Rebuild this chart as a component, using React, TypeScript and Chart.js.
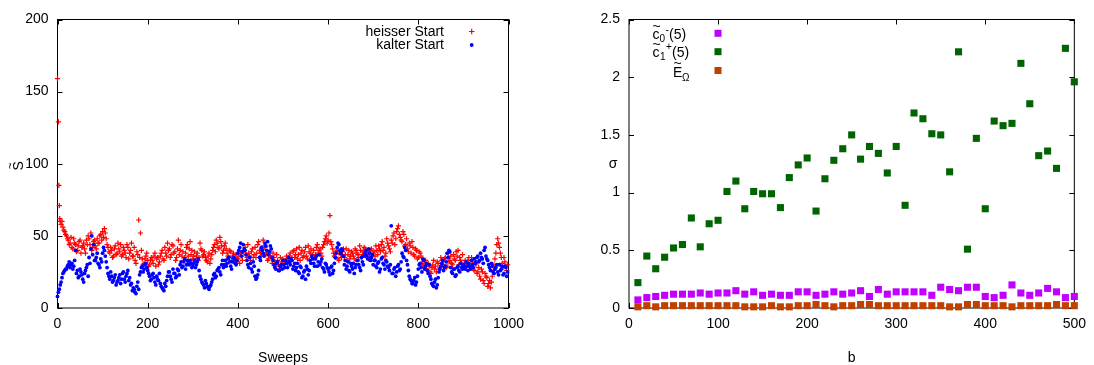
import React, { useEffect, useRef } from "react";
import { Chart, registerables } from "chart.js";
Chart.register(...registerables);

const FONT = '"Liberation Sans", Arial, Helvetica, sans-serif';

// ---- Left panel: S~ vs Sweeps ----
const hotEarlySweeps = [0, 2, 3, 4, 5, 6];
const hotEarlyValues = [159, 129, 85, 71, 62, 60];
const sweepStep = 4;
const hotStartA = 8;
const hotStartB = 10;
const coldStartA = 0;
const coldStartB = 2;

// heisser Start, sweeps 8, 12, ..., 996
const hotValuesA = [
  58, 56, 53, 50, 47, 45, 42, 48, 44, 40, 46, 38, 43, 41, 47, 50, 44, 40, 46, 43, 48, 45, 51, 53, 55,
  48, 42, 38, 40, 36, 43, 38, 41, 44, 37, 40, 35, 42, 38, 45, 36, 33, 39, 61, 52, 34, 31, 36, 33, 30,
  35, 31, 38, 34, 30, 36, 40, 33, 38, 45, 41, 37, 43, 39, 35, 47, 40, 36, 33, 38, 44, 41, 37, 34, 39,
  36, 33, 45, 40, 37, 35, 32, 38, 34, 40, 44, 47, 42, 49, 43, 40, 45, 38, 35, 39, 36, 33, 37, 34, 31,
  36, 39, 42, 35, 38, 33, 41, 37, 35, 44, 40, 36, 47, 42, 38, 34, 36, 31, 35, 29, 33, 27, 30, 34, 31,
  36, 33, 38, 35, 40, 37, 34, 42, 38, 35, 39, 36, 43, 38, 35, 40, 37, 44, 40, 38, 42, 46, 50, 47, 64,
  44, 38, 35, 40, 33, 37, 39, 35, 41, 37, 34, 39, 36, 41, 38, 35, 40, 37, 42, 36, 39, 35, 41, 38, 36,
  40, 43, 39, 46, 42, 38, 45, 41, 47, 50, 44, 53, 57, 49, 46, 51, 44, 41, 45, 38, 42, 36, 40, 35, 38,
  31, 28, 33, 26, 29, 24, 30, 27, 25, 31, 28, 33, 30, 35, 29, 32, 36, 30, 34, 39, 40, 35, 31, 28, 33,
  30, 35, 28, 32, 26, 30, 25, 22, 27, 19, 24, 21, 17, 14, 22, 30, 38, 48, 42, 35, 28, 32, 26,
];
// heisser Start, sweeps 10, 14, ..., 998
const hotValuesB = [
  60, 54, 51, 48, 44, 49, 41, 45, 39, 43, 47, 42, 45, 38, 44, 48, 52, 42, 47, 41, 45, 50, 47, 49, 52,
  44, 39, 42, 35, 41, 37, 45, 39, 36, 42, 38, 44, 34, 40, 36, 42, 31, 37, 35, 40, 30, 34, 38, 29, 33,
  33, 36, 29, 35, 32, 38, 34, 42, 36, 40, 35, 44, 38, 33, 41, 37, 44, 39, 35, 42, 36, 46, 40, 36, 33,
  38, 35, 41, 36, 39, 33, 36, 31, 37, 42, 39, 45, 41, 46, 38, 43, 41, 36, 40, 33, 38, 35, 32, 36, 38,
  33, 40, 37, 44, 36, 39, 35, 42, 38, 46, 38, 41, 43, 37, 33, 39, 35, 38, 32, 37, 30, 35, 32, 28, 33,
  31, 36, 33, 39, 35, 41, 37, 33, 40, 36, 42, 34, 39, 41, 37, 35, 42, 38, 41, 36, 44, 48, 45, 52, 46,
  41, 36, 39, 34, 38, 35, 41, 37, 33, 40, 36, 38, 34, 40, 37, 43, 35, 39, 41, 37, 34, 40, 36, 39, 43,
  37, 41, 44, 40, 36, 48, 43, 39, 45, 52, 48, 55, 51, 47, 53, 43, 48, 39, 43, 46, 37, 41, 34, 39, 36,
  30, 33, 27, 31, 25, 28, 33, 29, 32, 27, 35, 30, 34, 28, 38, 33, 31, 37, 33, 36, 30, 33, 37, 31, 29,
  33, 29, 35, 27, 31, 24, 28, 20, 25, 17, 22, 15, 19, 18, 26, 34, 44, 45, 38, 31, 35, 29, 30,
];

// kalter Start, sweeps 0, 4, ..., 996
const coldValuesA = [
  8, 13, 18, 24, 26, 27, 30, 28, 31, 29, 40, 26, 22, 25, 20, 24, 28, 22, 31, 50, 44, 33, 38, 30, 34,
  38, 40, 32, 24, 20, 22, 19, 23, 18, 21, 17, 24, 20, 22, 26, 21, 17, 14, 11, 15, 13, 25, 29, 27, 31,
  26, 22, 20, 24, 18, 22, 19, 17, 14, 12, 15, 22, 25, 20, 27, 24, 22, 26, 30, 28, 32, 27, 33, 30, 31,
  29, 33, 30, 34, 22, 18, 16, 19, 15, 13, 16, 20, 24, 22, 27, 25, 30, 28, 33, 31, 35, 29, 32, 34, 30,
  38, 42, 36, 44, 40, 33, 28, 31, 25, 29, 20, 23, 35, 42, 38, 45, 40, 37, 43, 35, 30, 27, 32, 26, 30,
  33, 28, 31, 35, 30, 33, 29, 26, 31, 24, 28, 22, 26, 29, 23, 33, 36, 31, 34, 29, 37, 32, 28, 25, 30,
  27, 23, 29, 26, 35, 42, 44, 38, 40, 30, 27, 32, 25, 29, 31, 28, 33, 30, 26, 32, 36, 40, 34, 38, 35,
  30, 33, 28, 32, 27, 35, 30, 33, 29, 26, 57, 24, 28, 25, 30, 27, 38, 35, 40, 30, 22, 19, 17, 21, 18,
  27, 31, 25, 33, 29, 26, 30, 20, 16, 18, 14, 21, 27, 31, 26, 29, 38, 40, 28, 24, 27, 23, 29, 25, 28,
  30, 27, 29, 31, 27, 30, 34, 32, 36, 33, 35, 31, 42, 34, 30, 26, 29, 24, 28, 25, 30, 27, 23, 29, 22,
];
// kalter Start, sweeps 2, 6, ..., 998
const coldValuesB = [
  11, 16, 21, 25, 27, 29, 32, 30, 27, 33, 24, 21, 27, 23, 18, 26, 30, 35, 41, 37, 33, 35, 31, 28, 32,
  42, 36, 28, 22, 25, 18, 21, 16, 19, 23, 20, 25, 18, 24, 19, 16, 12, 13, 10, 18, 23, 28, 25, 30, 28,
  24, 19, 23, 21, 16, 20, 24, 15, 13, 17, 19, 25, 22, 18, 24, 21, 27, 23, 32, 29, 34, 30, 31, 33, 28,
  31, 28, 32, 26, 20, 17, 14, 17, 14, 15, 18, 23, 21, 26, 28, 23, 33, 30, 29, 34, 32, 27, 35, 31, 33,
  40, 45, 39, 41, 37, 30, 35, 27, 32, 22, 21, 26, 33, 40, 36, 43, 46, 39, 41, 33, 28, 31, 26, 29, 27,
  30, 33, 28, 32, 34, 27, 31, 28, 25, 29, 21, 25, 20, 27, 26, 31, 34, 29, 36, 32, 30, 34, 27, 31, 28,
  25, 28, 24, 31, 38, 45, 40, 41, 36, 33, 29, 26, 31, 27, 24, 30, 33, 28, 35, 30, 38, 36, 41, 33, 37,
  33, 29, 31, 25, 34, 31, 27, 32, 28, 30, 24, 27, 22, 29, 26, 32, 36, 42, 33, 26, 20, 17, 19, 16, 22,
  30, 28, 34, 27, 31, 24, 22, 17, 15, 20, 16, 25, 29, 33, 28, 32, 35, 39, 25, 27, 22, 28, 26, 31, 27,
  28, 32, 26, 29, 33, 28, 31, 35, 32, 38, 34, 40, 36, 33, 28, 31, 25, 27, 30, 23, 26, 29, 24, 28, 25,
];

const leftXTicks = [0, 200, 400, 600, 800, 1000];
const leftYTicks = [0, 50, 100, 150, 200];
const leftSeriesNames = ["heisser Start", "kalter Start"];

// ---- Right panel: sigma vs b ----
const bValues = [
  10, 20, 30, 40, 50, 60, 70, 80, 90, 100, 110, 120, 130, 140, 150, 160, 170, 180, 190, 200,
  210, 220, 230, 240, 250, 260, 270, 280, 290, 300, 310, 320, 330, 340, 350, 360, 370, 380, 390, 400,
  410, 420, 430, 440, 450, 460, 470, 480, 490, 500,
];
const c0Minus = [
  0.07, 0.09, 0.10, 0.11, 0.12, 0.12, 0.12, 0.13, 0.12, 0.13, 0.13, 0.15, 0.12, 0.14, 0.11, 0.12, 0.11, 0.11, 0.14, 0.14,
  0.11, 0.12, 0.14, 0.12, 0.13, 0.15, 0.10, 0.16, 0.12, 0.14, 0.14, 0.14, 0.14, 0.11, 0.18, 0.16, 0.15, 0.18, 0.18, 0.10,
  0.09, 0.11, 0.20, 0.13, 0.11, 0.13, 0.17, 0.14, 0.09, 0.10,
];
const c1Plus = [
  0.22, 0.45, 0.34, 0.44, 0.52, 0.55, 0.78, 0.53, 0.73, 0.76, 1.01, 1.10, 0.86, 1.01, 0.99, 0.99, 0.87, 1.13, 1.24, 1.30,
  0.84, 1.12, 1.28, 1.38, 1.50, 1.29, 1.40, 1.34, 1.17, 1.40, 0.89, 1.69, 1.64, 1.51, 1.50, 1.18, 2.22, 0.51, 1.47, 0.86,
  1.62, 1.58, 1.60, 2.12, 1.77, 1.32, 1.36, 1.21, 2.25, 1.96,
];
const eOmega = [
  0.01, 0.02, 0.01, 0.02, 0.02, 0.02, 0.02, 0.02, 0.02, 0.02, 0.02, 0.02, 0.01, 0.01, 0.01, 0.02, 0.01, 0.01, 0.02, 0.02,
  0.03, 0.02, 0.01, 0.02, 0.02, 0.03, 0.03, 0.02, 0.02, 0.02, 0.02, 0.02, 0.02, 0.02, 0.02, 0.01, 0.01, 0.03, 0.03, 0.02,
  0.02, 0.02, 0.01, 0.02, 0.02, 0.02, 0.02, 0.03, 0.02, 0.02,
];
const rightXTicks = [0, 100, 200, 300, 400, 500];
const rightYTicks = [0, 0.5, 1, 1.5, 2, 2.5];

const RED = "#ff0000";
const BLUE = "#0000ff";
const PURPLE = "#c000ff";
const GREEN = "#006400";
const BROWN = "#c04000";

function drawFrame(chart: any) {
  const { ctx, chartArea: a, scales } = chart;
  ctx.save();
  ctx.strokeStyle = "#000";
  ctx.lineWidth = 1;
  ctx.strokeRect(a.left, a.top, a.right - a.left, a.bottom - a.top);
  const tl = 5;
  ctx.beginPath();
  scales.x.ticks.forEach((t: any) => {
    const px = Math.round(scales.x.getPixelForValue(t.value)) + 0.5;
    ctx.moveTo(px, a.bottom);
    ctx.lineTo(px, a.bottom - tl);
    ctx.moveTo(px, a.top);
    ctx.lineTo(px, a.top + tl);
  });
  scales.y.ticks.forEach((t: any) => {
    const py = Math.round(scales.y.getPixelForValue(t.value)) + 0.5;
    ctx.moveTo(a.left, py);
    ctx.lineTo(a.left + tl, py);
    ctx.moveTo(a.right, py);
    ctx.lineTo(a.right - tl, py);
  });
  ctx.stroke();
  ctx.restore();
}

const leftDecor = {
  id: "leftDecor",
  beforeDatasetsDraw(chart: any) {
    drawFrame(chart);
  },
  afterDraw(chart: any) {
    const { ctx, chartArea: a } = chart;
    ctx.save();
    ctx.fillStyle = "#000";
    ctx.font = `14px ${FONT}`;
    ctx.textAlign = "center";
    ctx.textBaseline = "middle";
    ctx.fillText("Sweeps", (a.left + a.right) / 2, 358);
    ctx.save();
    ctx.translate(19, (a.top + a.bottom) / 2 + 2);
    ctx.rotate(-Math.PI / 2);
    ctx.textAlign = "center";
    ctx.textBaseline = "middle";
    ctx.fillText("S", 0, 0);
    ctx.font = `11px ${FONT}`;
    ctx.fillText("~", 0, -8);
    ctx.restore();
    ctx.font = `14px ${FONT}`;
    ctx.textAlign = "right";
    ctx.textBaseline = "middle";
    ctx.fillText(leftSeriesNames[0], 444, 32);
    ctx.fillText(leftSeriesNames[1], 444, 45.5);
    ctx.strokeStyle = RED;
    ctx.lineWidth = 1.2;
    ctx.beginPath();
    ctx.moveTo(469, 31.5);
    ctx.lineTo(474.5, 31.5);
    ctx.moveTo(471.7, 28.7);
    ctx.lineTo(471.7, 34.3);
    ctx.stroke();
    ctx.fillStyle = BLUE;
    ctx.beginPath();
    ctx.arc(471.7, 45, 1.9, 0, Math.PI * 2);
    ctx.fill();
    ctx.restore();
  },
};

const rightDecor = {
  id: "rightDecor",
  beforeDatasetsDraw(chart: any) {
    drawFrame(chart);
  },
  afterDraw(chart: any) {
    const { ctx, chartArea: a } = chart;
    ctx.save();
    ctx.fillStyle = "#000";
    ctx.font = `14px ${FONT}`;
    ctx.textAlign = "center";
    ctx.textBaseline = "middle";
    ctx.fillText("b", (a.left + a.right) / 2, 358);
    ctx.fillText("\u03c3", 66, (a.top + a.bottom) / 2);
    ctx.textAlign = "left";
    ctx.textBaseline = "alphabetic";
    const big = `14px ${FONT}`;
    const small = `10px ${FONT}`;
    // row 1
    ctx.font = big;
    ctx.fillText("c", 105.5, 39);
    ctx.fillText("~", 105.5, 31);
    ctx.font = small;
    ctx.fillText("0", 112.5, 42);
    ctx.fillText("-", 118.5, 33);
    ctx.font = big;
    ctx.fillText("(5)", 122, 39);
    // row 2
    ctx.fillText("c", 105.5, 57);
    ctx.fillText("~", 105.5, 49);
    ctx.font = small;
    ctx.fillText("1", 113, 60);
    ctx.fillText("+", 119, 50);
    ctx.font = big;
    ctx.fillText("(5)", 125, 57);
    // row 3
    ctx.fillText("E", 126, 77);
    ctx.fillText("~", 126.5, 67.5);
    ctx.font = small;
    ctx.fillText("\u03a9", 135, 81);
    const sq = (c: string, y: number) => {
      ctx.fillStyle = c;
      ctx.fillRect(171 - 3.5, y - 3.5, 7, 7);
    };
    sq(PURPLE, 33.3);
    sq(GREEN, 51.7);
    sq(BROWN, 70.5);
    ctx.restore();
  },
};

function tickFont() {
  return { family: FONT, size: 14 };
}

const hiddenGrid = { display: false, drawTicks: false, tickLength: 0 };

function leftConfig(): any {
  const hotData = [
    ...hotEarlySweeps.map((s, i) => ({ x: s, y: hotEarlyValues[i] })),
    ...hotValuesA.map((v, i) => ({ x: hotStartA + i * sweepStep, y: v })),
    ...hotValuesB.map((v, i) => ({ x: hotStartB + i * sweepStep, y: v })),
  ];
  const coldData = [
    ...coldValuesA.map((v, i) => ({ x: coldStartA + i * sweepStep, y: v })),
    ...coldValuesB.map((v, i) => ({ x: coldStartB + i * sweepStep, y: v })),
  ];
  return {
    type: "scatter",
    data: {
      datasets: [
        {
          label: leftSeriesNames[0],
          data: hotData,
          pointStyle: "cross",
          pointRadius: 2.6,
          borderColor: RED,
          backgroundColor: RED,
          borderWidth: 1.2,
          clip: false,
          order: 1,
        },
        {
          label: leftSeriesNames[1],
          data: coldData,
          pointStyle: "circle",
          pointRadius: 1.9,
          borderWidth: 0,
          backgroundColor: BLUE,
          borderColor: BLUE,
          clip: false,
          order: 0,
        },
      ],
    },
    options: {
      responsive: false,
      maintainAspectRatio: false,
      devicePixelRatio: 1,
      animation: false,
      layout: { padding: { left: 0, top: 19.5, right: 38.5, bottom: 0 } },
      plugins: { legend: { display: false }, tooltip: { enabled: false } },
      scales: {
        x: {
          type: "linear",
          min: 0,
          max: 1000,
          grid: hiddenGrid,
          border: { display: false },
          afterBuildTicks: (s: any) => {
            s.ticks = leftXTicks.map((v) => ({ value: v }));
          },
          afterFit: (s: any) => {
            s.height = 57;
          },
          ticks: { font: tickFont(), color: "#000", padding: 8, maxRotation: 0, callback: (v: any) => String(v) },
        },
        y: {
          type: "linear",
          min: 0,
          max: 200,
          grid: hiddenGrid,
          border: { display: false },
          afterBuildTicks: (s: any) => {
            s.ticks = leftYTicks.map((v) => ({ value: v }));
          },
          afterFit: (s: any) => {
            s.width = 57.5;
          },
          ticks: { font: tickFont(), color: "#000", padding: 9, callback: (v: any) => String(v) },
        },
      },
    },
    plugins: [leftDecor],
  };
}

function rightConfig(): any {
  const mk = (arr: number[]) => arr.map((v, i) => ({ x: bValues[i], y: v }));
  const ds = (label: string, arr: number[], color: string) => ({
    label,
    data: mk(arr),
    pointStyle: "rect",
    pointRadius: 5,
    borderWidth: 0,
    backgroundColor: color,
    borderColor: color,
    clip: false,
  });
  return {
    type: "scatter",
    data: {
      datasets: [
        { ...ds("c0-", c0Minus, PURPLE), order: 2 },
        { ...ds("c1+", c1Plus, GREEN), order: 1 },
        { ...ds("E", eOmega, BROWN), order: 0 },
      ],
    },
    options: {
      responsive: false,
      maintainAspectRatio: false,
      devicePixelRatio: 1,
      animation: false,
      layout: { padding: { left: 0, top: 19.5, right: 13.3, bottom: 0 } },
      plugins: { legend: { display: false }, tooltip: { enabled: false } },
      scales: {
        x: {
          type: "linear",
          min: 0,
          max: 500,
          grid: hiddenGrid,
          border: { display: false },
          afterBuildTicks: (s: any) => {
            s.ticks = rightXTicks.map((v) => ({ value: v }));
          },
          afterFit: (s: any) => {
            s.height = 57;
          },
          ticks: { font: tickFont(), color: "#000", padding: 8, maxRotation: 0, callback: (v: any) => String(v) },
        },
        y: {
          type: "linear",
          min: 0,
          max: 2.5,
          grid: hiddenGrid,
          border: { display: false },
          afterBuildTicks: (s: any) => {
            s.ticks = rightYTicks.map((v) => ({ value: v }));
          },
          afterFit: (s: any) => {
            s.width = 82;
          },
          ticks: { font: tickFont(), color: "#000", padding: 9, callback: (v: any) => String(v) },
        },
      },
    },
    plugins: [rightDecor],
  };
}

export default function App() {
  const leftRef = useRef<HTMLCanvasElement>(null);
  const rightRef = useRef<HTMLCanvasElement>(null);
  useEffect(() => {
    const c1 = new Chart(leftRef.current as HTMLCanvasElement, leftConfig());
    const c2 = new Chart(rightRef.current as HTMLCanvasElement, rightConfig());
    return () => {
      c1.destroy();
      c2.destroy();
    };
  }, []);
  return (
    <div style={{ position: "absolute", left: 0, top: 0, width: 1094, height: 365, background: "#fff", overflow: "hidden" }}>
      <canvas
        ref={leftRef}
        width={547}
        height={365}
        style={{ position: "absolute", left: 0, top: 0, width: 547, height: 365 }}
      />
      <canvas
        ref={rightRef}
        width={547}
        height={365}
        style={{ position: "absolute", left: 547, top: 0, width: 547, height: 365 }}
      />
    </div>
  );
}
